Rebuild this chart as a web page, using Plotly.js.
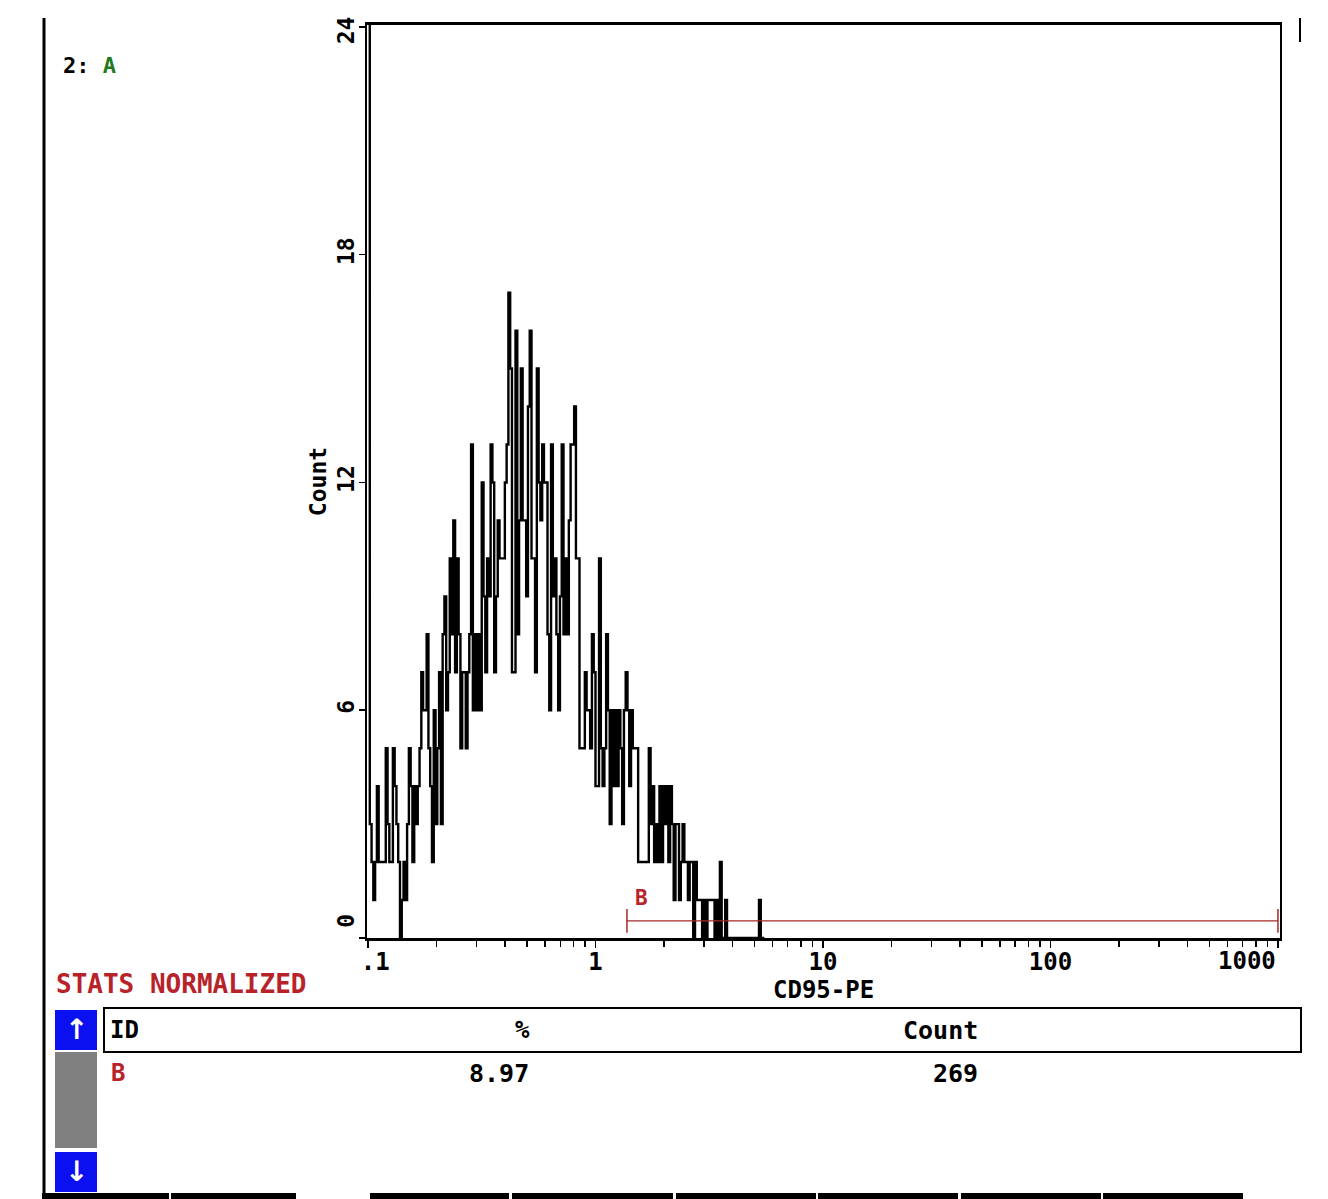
<!DOCTYPE html>
<html>
<head>
<meta charset="utf-8">
<script src="https://cdn.plot.ly/plotly-3.0.1.min.js"></script>
<style>html,body{margin:0;padding:0;background:#fff;}#chart{width:1328px;height:1199px;}</style>
</head>
<body>
<div id="chart"></div>
<script>
// ---- data ----
// histogram counts per log channel (128 channels per decade, starting at 0.1)
const channelsPerDecade = 128;
const channelStartLog = -1;
const counts = [
40,3,2,1,2,4,2,2,2,2,
5,3,2,2,5,4,3,2,0,1,
2,1,3,5,4,2,4,3,4,5,
7,6,6,8,5,4,2,6,3,5,
7,3,8,9,6,7,10,8,11,7,
10,8,5,7,7,5,7,8,13,6,
8,6,8,6,12,9,7,10,9,13,
12,7,9,11,10,10,10,12,13,17,
15,7,7,16,8,11,15,11,11,9,
14,16,10,10,7,15,12,11,13,12,
12,8,6,13,9,10,8,6,9,13,
8,10,8,11,13,13,14,10,10,5,
5,5,7,6,6,5,8,7,4,4,
10,5,4,5,8,6,3,6,4,6,
4,6,5,3,6,7,6,4,6,5,
5,5,2,2,2,2,2,2,5,3,
4,2,3,2,4,2,4,3,4,2,
4,3,1,3,3,1,2,3,2,2,
1,2,2,0,2,1,1,1,0,1,
0,1,1,1,1,0,1,0,2,0,
0,1,0,0,0,0,0,0,0,0,
0,0,0,0,0,0,0,0,0,0,
1,0,0,0
];
const xTickVals = [0.1, 1, 10, 100, 1000];
const xTickText = ['\u00a0.1', '1', '10', '100', ''];   // last label drawn right-aligned at its tick below
const xLastLabel = '1000';
const xMinorVals = [0.2,0.3,0.4,0.5,0.6,0.7,0.8,0.9,2,3,4,5,6,7,8,9,20,30,40,50,60,70,80,90,200,300,400,500,600,700,800,900];
const yTickVals = [0, 6, 12, 18, 24];
const yTickText = ['\u00a0\u00a00', '6', '12', '18', '24\u00a0'];
const xTitle = 'CD95-PE';
const yTitle = 'Count';
const gateName = 'B';
const gateStart = 1.375;
const gateEnd = 1000;
const gateLevel = 0.45;
const statIds = ['B'];
const statPct = ['8.97'];
const statCount = ['269'];
const statHeaders = ['ID', '%', 'Count'];

// ---- build ----
const histX = [], histY = [];
for (let i = 0; i < counts.length; i++) {
  histX.push(Math.pow(10, channelStartLog + i / channelsPerDecade));
  histY.push(counts[i]);
}

const L = 367, R = 1280, T = 25, B = 938;
const W = 1328, H = 1199;
const PW = R - L, PH = B - T;
const px = v => (v - L) / PW;
const py = v => (B - v) / PH;

const FONT = 'DejaVu Sans Mono, Liberation Mono, monospace';
const RED = '#b8232a';

const traces = [
  {
    x: histX, y: histY, type: 'scatter', mode: 'lines',
    line: {shape: 'hv', color: '#000', width: 2.4},
    hoverinfo: 'skip', showlegend: false, cliponaxis: true
  },
  {
    x: [gateStart, gateEnd], y: [gateLevel, gateLevel], type: 'scatter', mode: 'lines+markers',
    line: {color: '#a82828', width: 1.2},
    marker: {symbol: 'line-ns', size: 17, line: {color: '#a82828', width: 1.5}},
    hoverinfo: 'skip', showlegend: false, cliponaxis: false
  }
];

const shapes = [];
const ann = [];
function rectPx(x0, y0, x1, y1, fill, lineColor, lw) {
  shapes.push({type: 'rect', xref: 'paper', yref: 'paper', x0: px(x0), x1: px(x1), y0: py(y1), y1: py(y0),
    fillcolor: fill || 'rgba(0,0,0,0)', line: {color: lineColor || 'rgba(0,0,0,0)', width: lw || 0}, layer: 'above'});
}
function linePx(x0, y0, x1, y1, color, lw) {
  shapes.push({type: 'line', xref: 'paper', yref: 'paper', x0: px(x0), x1: px(x1), y0: py(y0), y1: py(y1),
    line: {color: color, width: lw}, layer: 'above'});
}
function textPx(x, y, text, color, size, anchor, family) {
  ann.push({xref: 'paper', yref: 'paper', x: px(x), y: py(y), text: '<b>' + text + '</b>',
    showarrow: false, xanchor: anchor || 'left', yanchor: 'middle',
    font: {family: family || FONT, size: size || 24, color: color || '#000'}});
}

// frame pieces
linePx(44, 18, 44, 1197, '#000', 3);
linePx(1300, 18, 1300, 42, '#000', 2);
const segs = [[42,169],[171,296],[370,509],[512,673],[676,816],[818,958],[961,1101],[1103,1243]];
segs.forEach(s => rectPx(s[0], 1193, s[1], 1199, '#000'));

// top-left label
textPx(61, 65, '2: <span style="color:#1f7a1f">A</span>', '#000', 22, 'left');

// last x tick label, right-aligned at its tick (as in the reference)
ann.push({x: Math.log10(xTickVals[4]), y: py(961), xref: 'x', yref: 'paper', text: '<b>' + xLastLabel + '</b>',
  showarrow: false, xanchor: 'right', yanchor: 'middle',
  font: {family: FONT, size: 24, color: '#000'}});
// x axis title
ann.push({x: 0.5, y: py(990), xref: 'paper', yref: 'paper', text: '<b>' + xTitle + '</b>', showarrow: false,
  xanchor: 'center', yanchor: 'middle', font: {family: FONT, size: 24, color: '#000'}});

// stats section
textPx(54, 984, 'STATS NORMALIZED', RED, 26, 'left');
rectPx(104, 1008, 1301, 1052, null, '#000', 2);
rectPx(55, 1010, 97, 1050, '#0a10f0');
rectPx(55, 1052, 97, 1148, '#808080');
rectPx(55, 1152, 97, 1192, '#0a10f0');
textPx(76, 1029, '↑', '#fff', 28, 'center', 'DejaVu Sans');
textPx(76, 1171, '↓', '#fff', 28, 'center', 'DejaVu Sans');
textPx(108, 1030, statHeaders[0], '#000', 24, 'left');
textPx(522, 1030, statHeaders[1], '#000', 24, 'center');
textPx(940, 1030, statHeaders[2], '#000', 25, 'center');
statIds.forEach((id, i) => {
  const yy = 1073 + i * 40;
  textPx(109, yy, id, RED, 24, 'left');
  textPx(499, yy, statPct[i], '#000', 25, 'center');
  textPx(955, yy, statCount[i], '#000', 25, 'center');
});

// gate label
ann.push({x: Math.log10(1.6), y: 1.05, xref: 'x', yref: 'y', text: '<b>' + gateName + '</b>', showarrow: false,
  xanchor: 'center', yanchor: 'middle', font: {family: FONT, size: 21, color: RED}});

const layout = {
  width: W, height: H,
  margin: {l: L, r: W - R, t: T, b: H - B, pad: 0},
  paper_bgcolor: '#fff', plot_bgcolor: '#fff',
  showlegend: false,
  font: {family: FONT, color: '#000'},
  xaxis: {
    type: 'log', range: [-1.0044, 3.009], autorange: false,
    showgrid: false, zeroline: false,
    showline: true, linecolor: '#000', linewidth: 3, mirror: true,
    ticks: 'outside', ticklen: 7, tickwidth: 1.5, tickcolor: '#000',
    tickmode: 'array', tickvals: xTickVals, ticktext: xTickText,
    ticklabelstandoff: -7,
    tickfont: {family: FONT, size: 24, color: '#000', weight: 'bold'},
    minor: {tickmode: 'array', tickvals: xMinorVals, ticks: 'outside', ticklen: 6, tickwidth: 1.5, tickcolor: '#000', showgrid: false}
  },
  yaxis: {
    range: [0, 24.05], autorange: false,
    showgrid: false, zeroline: false,
    showline: true, linecolor: '#000', linewidth: 2, mirror: true,
    ticks: 'outside', ticklen: 6, tickwidth: 1.5, tickcolor: '#000',
    tickmode: 'array', tickvals: yTickVals, ticktext: yTickText, tickangle: -90,
    ticklabelstandoff: -4,
    tickfont: {family: FONT, size: 23, color: '#000', weight: 'bold'},
    title: {text: yTitle, font: {family: FONT, size: 23, color: '#000', weight: 'bold'}, standoff: 0}
  },
  shapes: shapes,
  annotations: ann
};

Plotly.newPlot('chart', traces, layout, {staticPlot: true, displayModeBar: false});
</script>
</body>
</html>
